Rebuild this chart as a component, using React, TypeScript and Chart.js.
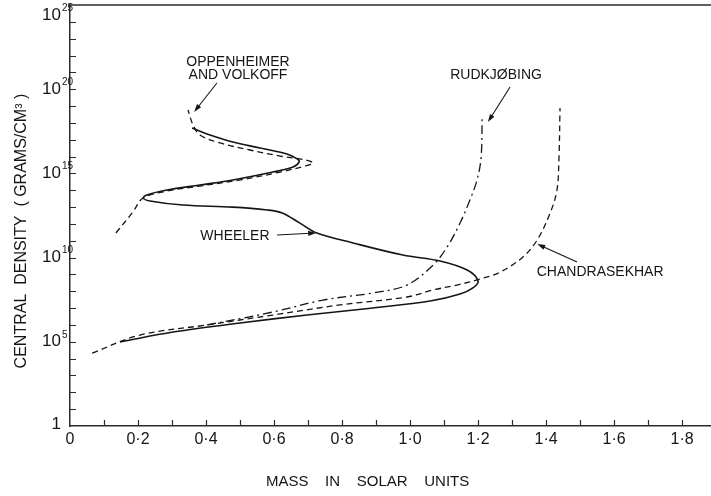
import React, { useEffect, useRef } from "react";
import { Chart, registerables } from "chart.js";

Chart.register(...registerables);

const FONT = '"Liberation Sans", Arial, Helvetica, sans-serif';
const INK = "#151515";
const AXIS = "#2a2a2a";

// ---- data (mass in solar units, log10 of central density in g/cm^3) ----
const wheelerMass = [0.147, 0.303, 0.5, 0.697, 0.891, 1.059, 1.147, 1.185, 1.2, 1.168, 1.088, 0.979, 0.832, 0.726, 0.676, 0.624, 0.579, 0.479, 0.332, 0.235, 0.215, 0.226, 0.285, 0.382, 0.479, 0.597, 0.656, 0.674, 0.668, 0.638, 0.559, 0.479, 0.412, 0.359];
const wheelerLogDensity = [4.99, 5.58, 6.12, 6.59, 7.01, 7.42, 7.84, 8.2, 8.61, 9.26, 9.8, 10.15, 10.87, 11.46, 12.05, 12.65, 12.83, 13.0, 13.12, 13.36, 13.54, 13.72, 14.01, 14.31, 14.61, 15.08, 15.38, 15.68, 15.86, 16.15, 16.51, 16.86, 17.28, 17.7];

const chandrasekharMass = [0.065, 0.206, 0.403, 0.597, 0.794, 0.991, 1.068, 1.138, 1.206, 1.265, 1.332, 1.374, 1.412, 1.432, 1.438, 1.441];
const chandrasekharLogDensity = [4.33, 5.4, 6.0, 6.59, 7.19, 7.66, 8.08, 8.37, 8.73, 9.14, 10.04, 11.05, 12.65, 14.01, 15.97, 18.88];

const rudkjobingMass = [0.403, 0.597, 0.744, 0.891, 0.991, 1.068, 1.109, 1.147, 1.176, 1.197, 1.209, 1.212];
const rudkjobingLogDensity = [6.0, 6.77, 7.48, 7.9, 8.37, 9.56, 10.63, 12.05, 13.42, 14.61, 15.97, 18.47];

const ovMass = [0.135, 0.185, 0.215, 0.285, 0.382, 0.5, 0.618, 0.691, 0.715, 0.691, 0.618, 0.529, 0.441, 0.382, 0.362, 0.347];
const ovLogDensity = [11.46, 12.71, 13.54, 13.95, 14.25, 14.61, 15.08, 15.44, 15.62, 15.8, 16.03, 16.39, 16.81, 17.28, 17.87, 18.76];

// ---- axes ----
const xMin = 0;
const xMax = 1.885;
const xMajorTicks = [0, 0.2, 0.4, 0.6, 0.8, 1.0, 1.2, 1.4, 1.6, 1.8];
const xMajorLabels = ["0", "0·2", "0·4", "0·6", "0·8", "1·0", "1·2", "1·4", "1·6", "1·8"];
const xTickMarks = [0.1, 0.2, 0.3, 0.4, 0.5, 0.6, 0.7, 0.8, 0.9, 1.0, 1.1, 1.2, 1.3, 1.4, 1.5, 1.6, 1.7, 1.8];

const yTickExponents = [0, 5, 10, 15, 20, 25];
const yTickBases = ["1", "10", "10", "10", "10", "10"];
const yTickSups = ["", "5", "10", "15", "20", "25"];
const yTickMarkExponents = [1, 2, 3, 4, 5, 6, 7, 8, 9, 10, 11, 12, 13, 14, 15, 16, 17, 18, 19, 20, 21, 22, 23, 24];

// ---- annotations (anchored in data space) ----
const labelTexts = [["OPPENHEIMER", "AND VOLKOFF"], ["RUDKJØBING"], ["CHANDRASEKHAR"], ["WHEELER"]];
const labelMass = [0.494, 1.253, 1.559, 0.485];
const labelLog = [21.62, 20.84, 9.14, 11.28];
const arrowFromMass = [0.432, 1.294, 1.491, 0.609];
const arrowFromLog = [20.37, 20.13, 9.74, 11.34];
const arrowToMass = [0.365, 1.229, 1.374, 0.724];
const arrowToLog = [18.65, 18.05, 10.81, 11.46];

const toPoints = (m: number[], l: number[]) => m.map((v, i) => ({ x: v, y: Math.pow(10, l[i]) }));

const overlayPlugin = {
  id: "overlay",
  afterDraw(chart: any) {
    const { ctx, chartArea, scales } = chart;
    const { left, right, top, bottom } = chartArea;
    const x = scales.x;
    const y = scales.y;
    ctx.save();
    // top border
    ctx.strokeStyle = AXIS;
    ctx.lineWidth = 1.5;
    ctx.beginPath();
    ctx.moveTo(left, top);
    ctx.lineTo(right, top);
    ctx.stroke();
    // inner tick marks
    ctx.lineWidth = 1.2;
    ctx.beginPath();
    for (const v of xTickMarks) {
      const px = Math.round(x.getPixelForValue(v)) + 0.5;
      ctx.moveTo(px, bottom);
      ctx.lineTo(px, bottom - 6);
    }
    for (const e of yTickMarkExponents) {
      const py = Math.round(y.getPixelForValue(Math.pow(10, e))) + 0.5;
      ctx.moveTo(left, py);
      ctx.lineTo(left + 6, py);
    }
    ctx.stroke();

    // y tick labels with superscripts
    ctx.fillStyle = INK;
    ctx.textBaseline = "middle";
    yTickExponents.forEach((e, i) => {
      let py = y.getPixelForValue(Math.pow(10, e));
      py = Math.max(py, top + 10);
      if (yTickSups[i]) {
        ctx.font = `17px ${FONT}`;
        ctx.textAlign = "right";
        ctx.fillText(yTickBases[i], left - 9, py);
        ctx.font = `10px ${FONT}`;
        ctx.textAlign = "left";
        ctx.fillText(yTickSups[i], left - 8, py - 7);
      } else {
        ctx.font = `17px ${FONT}`;
        ctx.textAlign = "right";
        ctx.fillText(yTickBases[i], left - 9, py - 2);
      }
    });

    // annotation labels
    ctx.font = `14px ${FONT}`;
    ctx.textAlign = "center";
    labelTexts.forEach((lines, i) => {
      const px = x.getPixelForValue(labelMass[i]);
      const py = y.getPixelForValue(Math.pow(10, labelLog[i]));
      lines.forEach((t, j) => ctx.fillText(t, px, py + j * 13));
    });

    // arrows
    ctx.strokeStyle = INK;
    ctx.lineWidth = 1.1;
    arrowFromMass.forEach((_, i) => {
      const x1 = x.getPixelForValue(arrowFromMass[i]);
      const y1 = y.getPixelForValue(Math.pow(10, arrowFromLog[i]));
      const x2 = x.getPixelForValue(arrowToMass[i]);
      const y2 = y.getPixelForValue(Math.pow(10, arrowToLog[i]));
      const a = Math.atan2(y2 - y1, x2 - x1);
      ctx.beginPath();
      ctx.moveTo(x1, y1);
      ctx.lineTo(x2 - 6 * Math.cos(a), y2 - 6 * Math.sin(a));
      ctx.stroke();
      const hl = 8;
      const hw = 2.6;
      ctx.beginPath();
      ctx.moveTo(x2, y2);
      ctx.lineTo(x2 - hl * Math.cos(a) + hw * Math.sin(a), y2 - hl * Math.sin(a) - hw * Math.cos(a));
      ctx.lineTo(x2 - hl * Math.cos(a) - hw * Math.sin(a), y2 - hl * Math.sin(a) + hw * Math.cos(a));
      ctx.closePath();
      ctx.fill();
    });
    ctx.restore();
  },
};

export default function App() {
  const canvasRef = useRef<HTMLCanvasElement | null>(null);

  useEffect(() => {
    const canvas = canvasRef.current;
    if (!canvas) return;
    const common = { showLine: true, pointRadius: 0, fill: false, tension: 0.35, borderColor: INK };
    const chart = new Chart(canvas, {
      type: "scatter",
      data: {
        datasets: [
          { ...common, label: "Wheeler", data: toPoints(wheelerMass, wheelerLogDensity), borderWidth: 1.6 },
          { ...common, label: "Chandrasekhar", data: toPoints(chandrasekharMass, chandrasekharLogDensity), borderWidth: 1.3, borderDash: [6, 4] },
          { ...common, label: "Rudkjøbing", data: toPoints(rudkjobingMass, rudkjobingLogDensity), borderWidth: 1.3, borderDash: [9, 4, 2, 4] },
          { ...common, label: "Oppenheimer and Volkoff", data: toPoints(ovMass, ovLogDensity), borderWidth: 1.3, borderDash: [6, 4] },
        ],
      },
      options: {
        responsive: false,
        animation: false,
        events: [],
        layout: { padding: { top: 5, left: 0, right: 0, bottom: 0 } },
        plugins: { legend: { display: false }, tooltip: { enabled: false } },
        scales: {
          x: {
            type: "linear",
            min: xMin,
            max: xMax,
            grid: { display: false, drawTicks: false },
            border: { display: true, color: AXIS, width: 1.5 },
            afterBuildTicks: (s: any) => {
              s.ticks = xMajorTicks.map((v) => ({ value: v }));
            },
            ticks: {
              autoSkip: false,
              maxRotation: 0,
              padding: 4,
              color: INK,
              font: { family: FONT, size: 16 },
              callback: (_v: any, i: number) => xMajorLabels[i] ?? "",
            },
            title: {
              display: true,
              text: "MASS    IN    SOLAR    UNITS           ",
              color: INK,
              font: { family: FONT, size: 15 },
              padding: { top: 0, bottom: 5 },
            },
            afterFit: (s: any) => {
              s.height = 70;
              s.paddingLeft = 0;
              s.paddingRight = 0;
            },
          },
          y: {
            type: "logarithmic",
            min: 1,
            max: 1e25,
            grid: { display: false, drawTicks: false },
            border: { display: true, color: AXIS, width: 1.5 },
            ticks: { display: false },
            title: {
              display: true,
              text: "CENTRAL  DENSITY  ( GRAMS/CM³ )       ",
              color: INK,
              font: { family: FONT, size: 16 },
              padding: { top: 12, bottom: 0 },
            },
            afterFit: (s: any) => {
              s.width = 70;
              s.paddingTop = 0;
              s.paddingBottom = 0;
            },
          },
        },
      } as any,
      plugins: [overlayPlugin],
    });
    return () => chart.destroy();
  }, []);

  return (
    <div style={{ position: "absolute", left: 0, top: 0, width: 711, height: 496, background: "#fff" }}>
      <canvas ref={canvasRef} width={711} height={496} style={{ display: "block" }} />
    </div>
  );
}
